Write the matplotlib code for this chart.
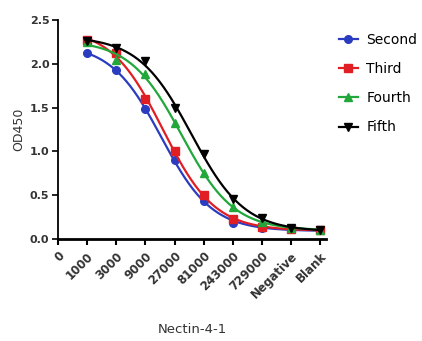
import numpy as np
import matplotlib
matplotlib.use("Agg")
import matplotlib.pyplot as plt

categories = ["0", "1000", "3000", "9000", "27000", "81000", "243000", "729000", "Negative", "Blank"]
data_labels = ["1000", "3000", "9000", "27000", "81000", "243000", "729000", "Negative", "Blank"]

second = [2.12, 1.93, 1.48, 0.90, 0.44, 0.18, 0.13, 0.12, 0.10]
third = [2.27, 2.12, 1.60, 1.01, 0.50, 0.23, 0.14, 0.12, 0.10]
fourth = [2.25, 2.05, 1.88, 1.33, 0.75, 0.37, 0.20, 0.13, 0.10]
fifth = [2.26, 2.18, 2.03, 1.50, 0.97, 0.46, 0.24, 0.13, 0.10]


def fit_curve(x, y):
    # sigmoid fit (like the original's nonlinear fit), grid over slope/midpoint
    x = np.asarray(x, float)
    y = np.asarray(y, float)
    best = None
    for b in np.linspace(0.5, 3.0, 101):
        for c in np.linspace(2, 7, 201):
            s = 1 / (1 + np.exp(b * (x - c)))
            A = np.column_stack([s, 1 - s])
            coef = np.linalg.lstsq(A, y, rcond=None)[0]
            err = np.sum((A @ coef - y) ** 2)
            if best is None or err < best[0]:
                best = (err, b, c, coef)
    _, b, c, (top, bottom) = best
    xs = np.linspace(x[0], x[-1], 300)
    s = 1 / (1 + np.exp(b * (xs - c)))
    return xs, top * s + bottom * (1 - s)


fig = plt.figure(figsize=(4.22, 3.41), dpi=100)
ax = fig.add_axes([0.137, 0.299, 0.636, 0.642])

xpos = [categories.index(c) for c in data_labels]
series = [
    ("Second", second, "#2a3cc0", "o", 5.5),
    ("Third", third, "#e01e24", "s", 5.5),
    ("Fourth", fourth, "#22a83a", "^", 6),
    ("Fifth", fifth, "black", "v", 6),
]
for name, vals, col, mk, ms in series:
    sx, sy = fit_curve(xpos, vals)
    ax.plot(sx, sy, color=col, lw=1.6)
    ax.plot(xpos, vals, ls="none", marker=mk, ms=ms, color=col)
    ax.plot([], [], color=col, lw=1.6, marker=mk, ms=ms, label=name)

ax.set_xlim(0, 9.2)
ax.set_ylim(0, 2.5)
ax.set_yticks(np.arange(0, 2.51, 0.5))
ax.set_yticklabels(["0.0", "0.5", "1.0", "1.5", "2.0", "2.5"], fontsize=8, fontweight="bold", color="#333333")
ax.set_xticks(range(len(categories)))
ax.set_xticklabels(categories, rotation=45, ha="right", rotation_mode="anchor",
                   fontsize=8.5, fontweight="bold", color="#333333")
ax.spines["top"].set_visible(False)
ax.spines["right"].set_visible(False)
ax.spines["bottom"].set_linewidth(2)
ax.spines["left"].set_linewidth(1.3)
ax.tick_params(axis="x", length=4, width=1.5)
ax.tick_params(axis="y", length=4, width=1.2, pad=2)
ax.set_ylabel("OD450", fontsize=9, color="#333333", labelpad=3)
ax.set_xlabel("Nectin-4-1", fontsize=9.5, color="#333333", labelpad=16)

ax.legend(loc="upper left", bbox_to_anchor=(1.0, 1.0), frameon=False,
          fontsize=10, handlelength=1.4, labelspacing=1.1, handletextpad=0.6)

fig.savefig("out.png", dpi=100)
